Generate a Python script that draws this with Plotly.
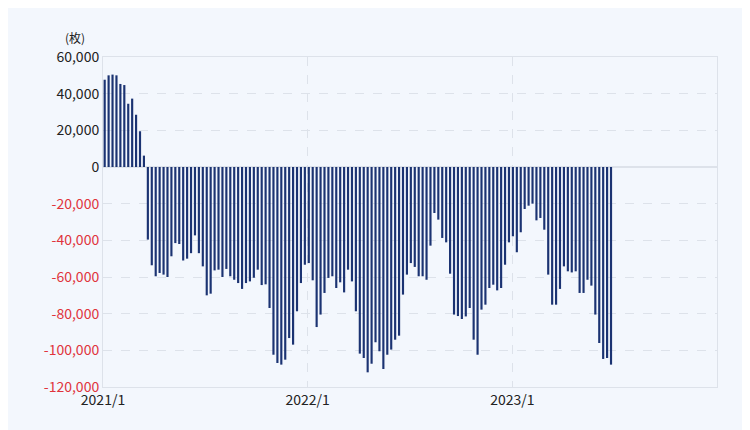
import pandas as pd
import plotly.graph_objects as go

# weekly values (枚)
values = [
    47600, 50000, 50400, 50000, 45300, 44700, 34500, 37300, 28500, 19500, 6200,
    -39600, -53600, -59600, -57800, -58700, -60000, -48700, -41500, -42000, -51000,
    -50000, -47000, -37300, -47000, -54200, -70000, -69100, -56400, -56000, -60000,
    -55600, -59600, -61500, -63300, -66500, -63300, -62400, -60400, -56000, -64400,
    -64000, -76900, -102400, -106900, -107800, -105100, -93300, -96900, -78700, -63300,
    -53300, -52400, -61800, -87300,
    -80500, -68700, -60500, -59600, -66000, -62900, -68400, -56000, -62400, -78700,
    -101800, -104200, -112000, -107300, -95600, -100500, -110200, -102400, -99600, -94200,
    -92000, -69600, -58700, -52400, -54500, -59600, -59600, -61500, -42900, -25100,
    -28700, -38700, -41100, -58200, -80500, -81300, -82900, -81500, -76900, -94200,
    -102400, -77800, -75100, -66000, -64200, -67300, -66000, -53300, -41100, -37800,
    -46500, -35600,
    -22900, -21100, -20000, -29100, -27800, -34200, -58700, -75100, -75100, -66500,
    -54200, -56900, -57500, -56900, -68700, -68700, -61500, -64700, -80500, -96000,
    -104700, -104200, -107800,
]
weeks = pd.date_range("2021-01-04", periods=len(values), freq="7D")

tick_dates = ["2021-01-01", "2022-01-01", "2023-01-01"]
tick_labels = ["2021/1", "2022/1", "2023/1"]
y_ticks = [60000, 40000, 20000, 0, -20000, -40000, -60000, -80000, -100000, -120000]
y_labels = [f"{v:,}" if v >= 0 else f"<span style='color:#e0343c'>{v:,}</span>" for v in y_ticks]

fig = go.Figure(go.Bar(x=weeks, y=values, marker_color="#1b3372", marker_line_width=0))

fig.update_layout(
    width=750, height=430,
    margin=dict(l=95, r=41, t=49, b=51),
    paper_bgcolor="#f3f7fd", plot_bgcolor="#f3f7fd",
    bargap=0.45, showlegend=False,
    font=dict(family="Noto Sans CJK JP", size=14, color="#222"),
    annotations=[dict(text="(枚)", x=0.0, y=1.0, xref="paper", yref="paper",
                      xshift=-40, yshift=30, showarrow=False, font=dict(size=12))],
)
fig.update_xaxes(
    range=["2021-01-01", "2024-01-01"], tickvals=tick_dates, ticktext=tick_labels,
    showgrid=True, gridcolor="#dde2ea", griddash="dash", showline=True,
    linecolor="#dde2ea", mirror=True, ticks="", zeroline=False,
)
fig.update_yaxes(
    range=[-120000, 60000], tickvals=y_ticks, ticktext=y_labels,
    showgrid=True, gridcolor="#dde2ea", griddash="dash", showline=True,
    linecolor="#dde2ea", mirror=True, zeroline=True, zerolinecolor="#dde2ea",
)

fig.write_html("out.html")
